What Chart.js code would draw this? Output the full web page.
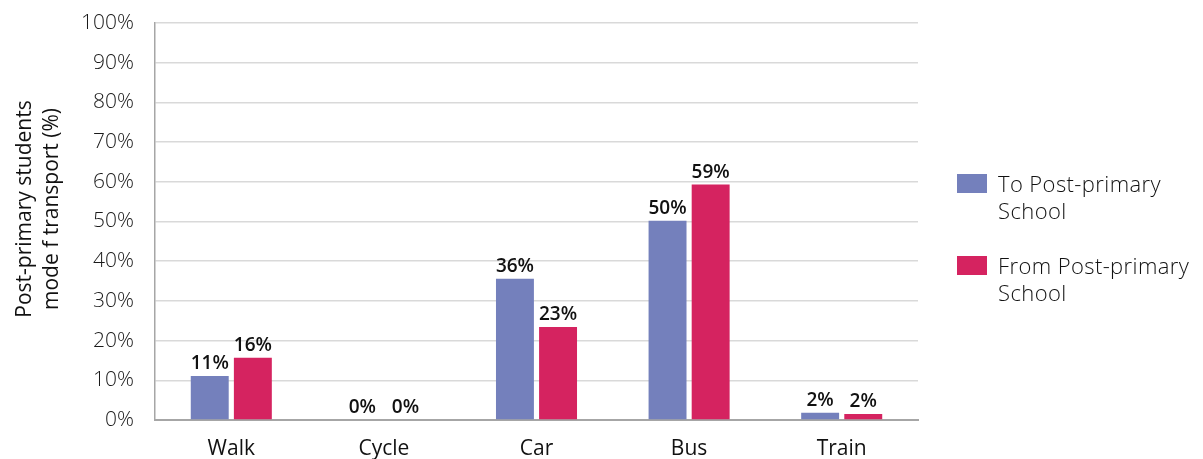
<!DOCTYPE html>
<html>
<head>
<meta charset="utf-8">
<script src="https://cdn.jsdelivr.net/npm/chart.js@4.4.1/dist/chart.umd.min.js"></script>
<style>
  body { margin: 0; background: #fff; }
  #wrap { width: 1203px; height: 459px; }
</style>
</head>
<body>
<div id="wrap"><canvas id="grafico"></canvas></div>
<script>
const categorias = ["Walk", "Cycle", "Car", "Bus", "Train"];
const paraEscola = [11.1, 0, 35.6, 50.2, 1.8];
const daEscola = [15.7, 0, 23.4, 59.3, 1.5];
const nomesSeries = [["To Post-primary", "School"], ["From Post-primary", "School"]];
const coresSeries = ["#7480bc", "#d52360"];
const tituloEixoY = ["Post-primary students", "mode f transport (%)"];

const fonte = "'Open Sans', Lato, sans-serif";

// rótulos de valor em cima das barras
const rotulosBarras = {
  id: "rotulosBarras",
  afterDatasetsDraw(chart) {
    const ctx = chart.ctx;
    ctx.save();
    ctx.font = "600 19px " + fonte;
    ctx.fillStyle = "#111";
    ctx.textAlign = "center";
    ctx.textBaseline = "alphabetic";
    chart.data.datasets.forEach((ds, i) => {
      chart.getDatasetMeta(i).data.forEach((bar, j) => {
        ctx.fillText(Math.round(ds.data[j]) + "%", bar.x, bar.y - 7);
      });
    });
    ctx.restore();
  },
};

// título do eixo y, um pouco acima do centro como no original
const tituloY = {
  id: "tituloY",
  afterDraw(chart) {
    const ctx = chart.ctx;
    ctx.save();
    ctx.font = "21px " + fonte;
    ctx.fillStyle = "#111";
    ctx.textAlign = "center";
    ctx.textBaseline = "middle";
    ctx.translate(0, 209);
    ctx.rotate(-Math.PI / 2);
    tituloEixoY.forEach((linha, k) => {
      ctx.fillText(linha, 0, 25 + k * 27);
    });
    ctx.restore();
  },
};

// legenda à direita com texto em duas linhas
const legendaDireita = {
  id: "legendaDireita",
  afterDraw(chart) {
    const ctx = chart.ctx;
    ctx.save();
    ctx.font = "300 22px " + fonte;
    ctx.letterSpacing = "0.4px";
    ctx.textAlign = "left";
    ctx.textBaseline = "alphabetic";
    chart.data.datasets.forEach((ds, i) => {
      const topo = 174 + i * 82;
      ctx.fillStyle = ds.backgroundColor;
      ctx.fillRect(957, topo, 30, 19);
      ctx.fillStyle = "#111";
      nomesSeries[i].forEach((linha, k) => {
        ctx.fillText(linha, 998, topo + 18 + k * 27);
      });
    });
    ctx.restore();
  },
};

new Chart(document.getElementById("grafico"), {
  type: "bar",
  data: {
    labels: categorias,
    datasets: [
      {
        label: nomesSeries[0].join(" "),
        data: paraEscola,
        backgroundColor: coresSeries[0],
        barPercentage: 0.88,
        categoryPercentage: 0.565,
      },
      {
        label: nomesSeries[1].join(" "),
        data: daEscola,
        backgroundColor: coresSeries[1],
        barPercentage: 0.88,
        categoryPercentage: 0.565,
      },
    ],
  },
  options: {
    responsive: true,
    maintainAspectRatio: false,
    animation: false,
    layout: {
      padding: { top: 23, right: 285, left: 0, bottom: 0 },
    },
    plugins: {
      legend: { display: false },
      tooltip: { enabled: false },
    },
    scales: {
      x: {
        grid: { display: false },
        border: { color: "#a6a6a6", width: 2 },
        ticks: {
          color: "#111",
          font: { family: fonte, size: 21 },
          padding: 8,
        },
        afterFit(scale) {
          scale.height = 39;
        },
      },
      y: {
        min: 0,
        max: 100,
        grid: {
          color: "#d9d9d9",
          lineWidth: 1.5,
          drawTicks: true,
          tickLength: 21,
          tickColor: "rgba(0,0,0,0)",
        },
        border: { color: "#a6a6a6", width: 1.5 },
        ticks: {
          stepSize: 10,
          color: "#1a1a1a",
          padding: 0,
          font: { family: fonte, size: 21, weight: "300" },
          callback: (v) => v + "%",
        },
        afterFit(scale) {
          scale.width = 155;
        },
      },
    },
  },
  plugins: [rotulosBarras, tituloY, legendaDireita],
});
</script>
</body>
</html>
